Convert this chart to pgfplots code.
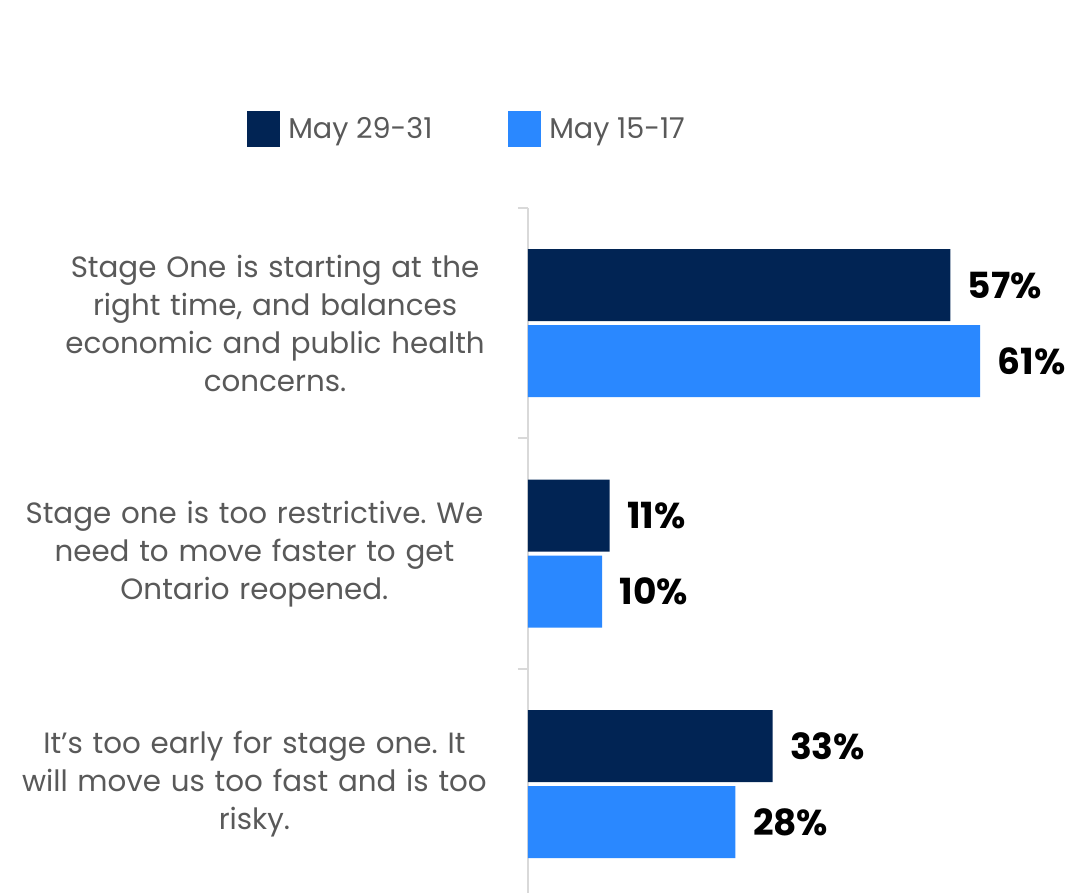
\documentclass[border=0pt]{standalone}
\usepackage{fontspec}
\setmainfont{Poppins}
\usepackage{pgfplots}
\pgfplotsset{compat=1.18}
\definecolor{darkbar}{HTML}{012454}
\definecolor{lightbar}{HTML}{2A88FF}
\definecolor{txtgray}{HTML}{595959}
\definecolor{axgray}{HTML}{D9D9D9}
\frenchspacing
\newcommand{\pad}{\rule{31pt}{0pt}}
\begin{document}
\begin{tikzpicture}
\path[use as bounding box] (0,0) rectangle (807pt,669.75pt);
\begin{axis}[
  at={(396pt,-4.875pt)}, anchor=south west,
  scale only axis, width=389.03pt, height=518.625pt,
  xmin=0, xmax=70, ymin=-0.5, ymax=2.5,
  xbar, bar width=54pt,
  axis x line=none, axis y line*=left,
  axis line style={axgray, line width=1.5pt},
  ytick={0,1,2},
  yticklabels={
    {It’s too early for stage one. It\pad\\will move us too fast and is too\pad\\risky.\pad},
    {Stage one is too restrictive. We\pad\\need to move faster to get\pad\\Ontario reopened.\pad},
    {Stage One is starting at the\\right time, and balances\\economic and public health\\concerns.}},
  major tick length=0pt,
  minor ytick={-0.5,0.5,1.5,2.5},
  minor tick length=7.5pt,
  tick align=outside,
  minor tick style={axgray, line width=1.5pt},
  yticklabel style={font=\fontsize{22}{28.5}\selectfont, text=txtgray, text width=440pt, align=center, inner sep=0pt, xshift=30.5pt},
  point meta=x,
  nodes near coords={\pgfmathprintnumber[assume math mode=true]{\pgfplotspointmeta}\%},
  nodes near coords style={font=\fontsize{27}{30}\selectfont\bfseries, black, anchor=west, inner sep=0pt, xshift=13pt},
  legend style={at={(axis description cs:-0.5417,1.1142)}, anchor=west, draw=none, fill=none,
    inner sep=0pt, column sep=0pt, nodes={inner sep=0pt, anchor=west},
    font=\fontsize{21.5}{24}\selectfont, text=txtgray},
  legend columns=2,
]
\addplot[fill=darkbar, draw=none, bar shift=28.5pt,
  legend image code/.code={\fill[darkbar] (0pt,-13.5pt) rectangle (24.75pt,13.5pt);}]
  coordinates {(57,2) (11,1) (33,0)};
\addlegendentry{\hspace*{6pt}\makebox[165pt][l]{May 29-31}}
\addplot[fill=lightbar, draw=none, bar shift=-28.5pt,
  legend image code/.code={\fill[lightbar] (0pt,-13.5pt) rectangle (24.75pt,13.5pt);}]
  coordinates {(61,2) (10,1) (28,0)};
\addlegendentry{\hspace*{6pt}May 15-17}
\end{axis}
\end{tikzpicture}
\end{document}
